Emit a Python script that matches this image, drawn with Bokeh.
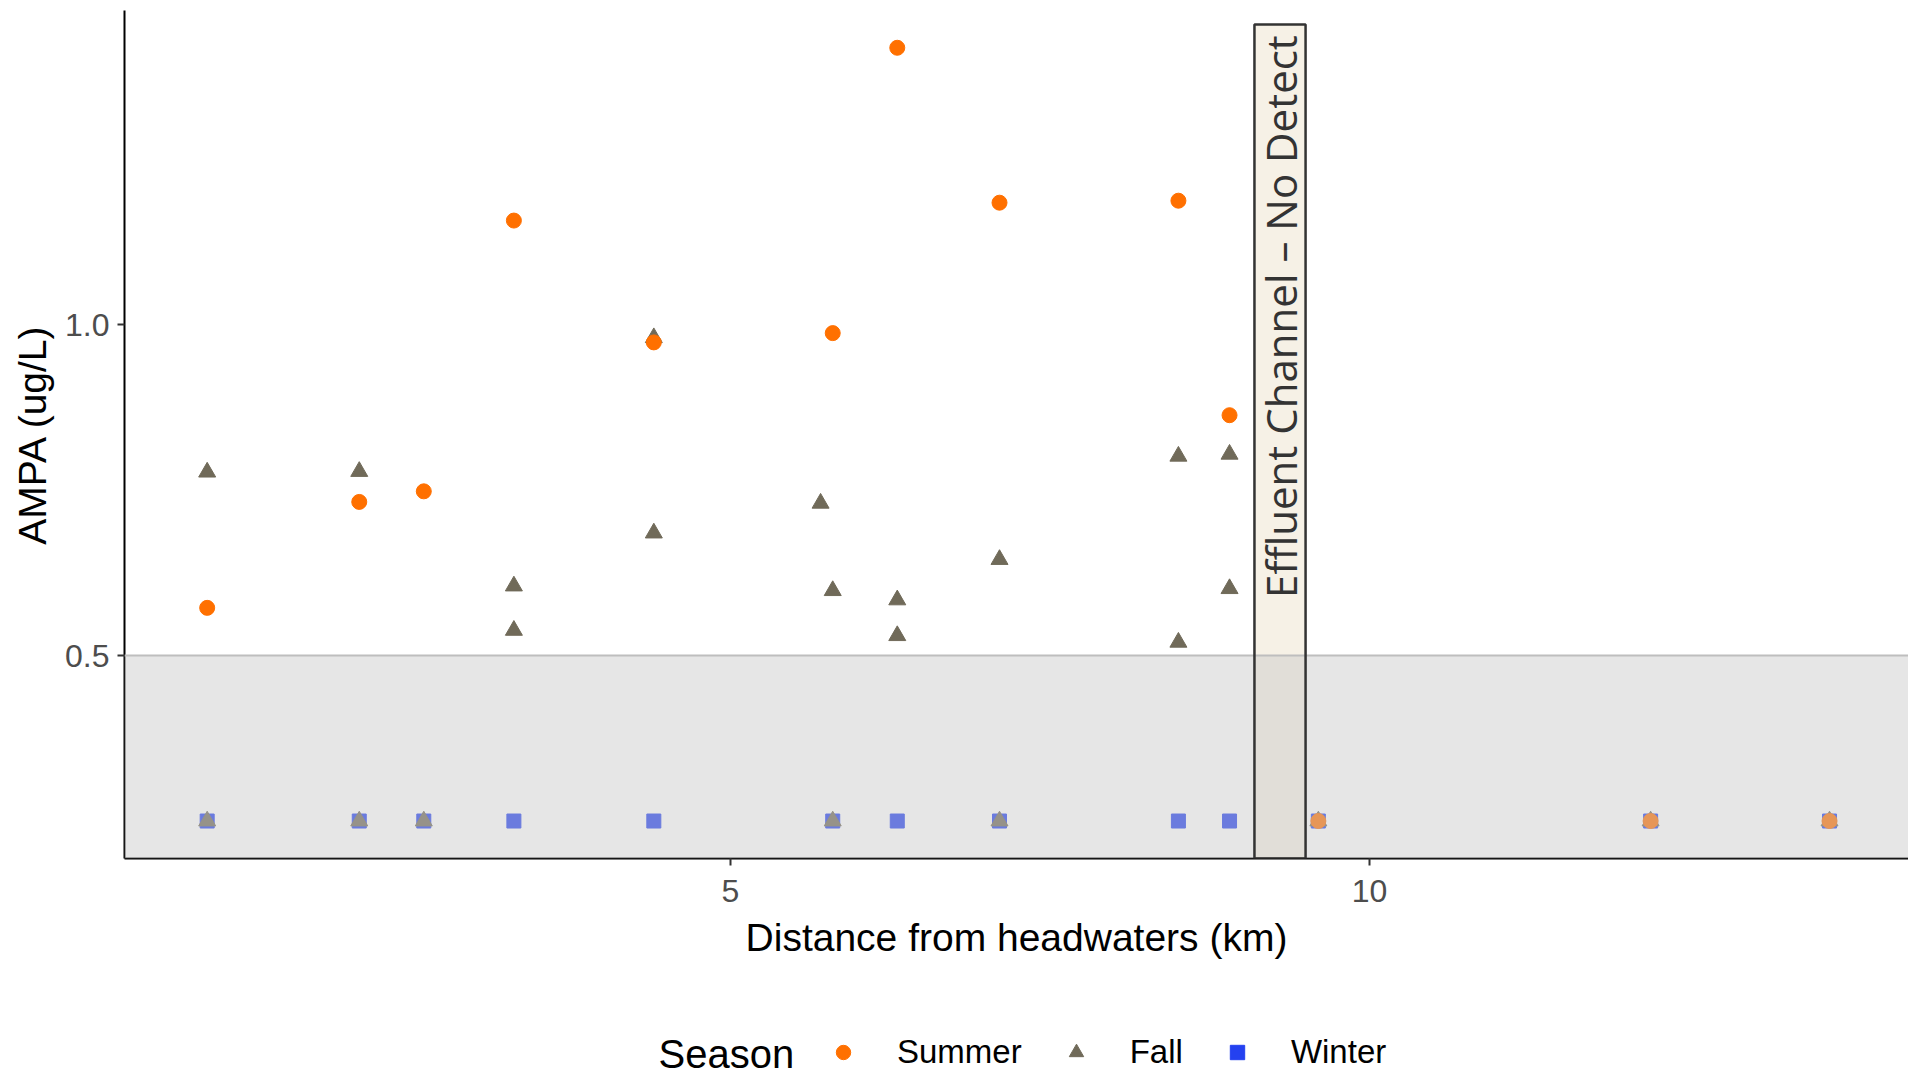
import math
from bokeh.plotting import figure
from bokeh.layouts import column
from bokeh.models import (Range1d, FixedTicker, Legend, LegendItem, BoxAnnotation,
                          Span, Label, PrintfTickFormatter)
from bokeh.embed import file_html
from bokeh.resources import INLINE

# ---- data (distance km, AMPA ug/L) ----
summer_km = [0.905, 2.095, 2.6, 3.305, 4.4, 5.8, 6.305, 7.105, 8.505, 8.905, 9.6, 12.2, 13.6]
summer_ampa = [0.572, 0.732, 0.748, 1.157, 0.973, 0.987, 1.418, 1.184, 1.187, 0.863, 0.25, 0.25, 0.25]

fall_km = [0.905, 0.905, 2.095, 2.095, 2.6, 3.305, 3.305, 4.4, 4.4, 5.705, 5.8, 5.8,
           6.305, 6.305, 7.105, 7.105, 8.505, 8.505, 8.905, 8.905, 9.6, 12.2, 13.6]
fall_ampa = [0.777, 0.25, 0.778, 0.25, 0.25, 0.605, 0.538, 0.685, 0.98, 0.730, 0.598, 0.25,
             0.584, 0.530, 0.645, 0.25, 0.801, 0.520, 0.804, 0.601, 0.25, 0.25, 0.25]

winter_km = [0.905, 2.095, 2.6, 3.305, 4.4, 5.8, 6.305, 7.105, 8.505, 8.905, 9.6, 12.2, 13.6]
winter_ampa = [0.25] * 13

legend_title = "Season"
seasons = ["Summer", "Fall", "Winter"]
detection_limit = 0.5
x_ticks = [5, 10]
y_ticks = [0.5, 1.0]
effluent_left, effluent_right, effluent_top = 9.1, 9.5, 1.453
effluent_text = "Effluent Channel \u2013 No Detect"

C_SUMMER = "#FF7000"
C_FALL = "#706A59"
C_WINTER = "#2441F0"
STY = {"Summer": dict(marker="circle", size=15, color=C_SUMMER),
       "Fall": dict(marker="triangle", size=17, color=C_FALL),
       "Winter": dict(marker="square", size=14, color=C_WINTER)}
DATA = {"Summer": (summer_km, summer_ampa),
        "Fall": (fall_km, fall_ampa),
        "Winter": (winter_km, winter_ampa)}

Y0, Y1 = 0.1934, 1.4743
p = figure(width=1908, height=1026, output_backend="svg", toolbar_location=None,
           x_range=Range1d(0.258, 14.218), y_range=Range1d(Y0, Y1),
           min_border_left=124, min_border_right=0, min_border_top=10, min_border_bottom=168)
p.outline_line_color = None
p.xgrid.visible = False
p.ygrid.visible = False
p.background_fill_color = "white"
p.border_fill_color = "white"

# points: winter under fall under summer
for s in ["Winter", "Fall", "Summer"]:
    p.scatter(*DATA[s], **STY[s])

# effluent channel box fill
p.quad(left=[effluent_left], right=[effluent_right], bottom=[Y0], top=[effluent_top],
       fill_color="#F6F1E6", line_color=None)

# non-detect shading
p.add_layout(BoxAnnotation(top=detection_limit, fill_color="#C6C6C6", fill_alpha=0.44,
                           line_color=None))
p.add_layout(Span(location=detection_limit, dimension="width", line_color="#BEBEBE",
                  line_width=2))
# effluent box outline
p.add_layout(BoxAnnotation(left=effluent_left, right=effluent_right, top=effluent_top,
                           fill_alpha=0, fill_color=None, line_color="#333333",
                           line_alpha=1.0, line_width=2.5))
p.add_layout(Label(x=(effluent_left + effluent_right) / 2, y=1.012, text=effluent_text,
                   angle=math.pi / 2, text_align="center", text_baseline="middle",
                   text_font="Open Sans", text_font_size="42px", text_color="#333333"))

# axes
for ax in (p.xaxis[0], p.yaxis[0]):
    ax.axis_line_color = "black"
    ax.axis_line_width = 2
    ax.major_tick_line_color = "#333333"
    ax.major_tick_line_width = 2
    ax.major_tick_out = 7
    ax.major_tick_in = 0
    ax.minor_tick_line_color = None
    ax.major_label_text_font = "Liberation Sans"
    ax.major_label_text_font_size = "32px"
    ax.major_label_text_color = "#4D4D4D"
    ax.axis_label_text_font = "Liberation Sans"
    ax.axis_label_text_font_size = "39px"
    ax.axis_label_text_font_style = "normal"
    ax.axis_label_text_color = "black"

p.xaxis.ticker = FixedTicker(ticks=x_ticks)
p.yaxis.ticker = FixedTicker(ticks=y_ticks)
p.yaxis.formatter = PrintfTickFormatter(format="%.1f")
p.xaxis.axis_label = "Distance from headwaters (km)"
p.yaxis.axis_label = "AMPA (ug/L)"
p.xaxis.major_label_standoff = 14
p.xaxis.axis_label_standoff = 11
p.yaxis.major_label_standoff = 8
p.yaxis.axis_label_standoff = 8
p.yaxis.major_label_orientation = "horizontal"

# ---- legend strip (separate figure below; its ranges exclude the data) ----
lg = figure(width=1908, height=48, output_backend="svg", toolbar_location=None,
            x_range=Range1d(-3, -2), y_range=Range1d(-3, -2), x_axis_type=None,
            y_axis_type=None, min_border=0, min_border_left=0, min_border_right=0,
            min_border_top=0, min_border_bottom=0)
lg.outline_line_color = None
lg.xgrid.visible = False
lg.ygrid.visible = False
items = []
for s in seasons:
    r = lg.scatter(*DATA[s], **STY[s])
    items.append(LegendItem(label=s, renderers=[r]))
legend = Legend(items=items, orientation="horizontal", location=(701, 3), padding=0,
                margin=0, spacing=36, glyph_width=36, glyph_height=36, label_standoff=36,
                border_line_color=None, background_fill_alpha=0,
                label_text_font="Liberation Sans", label_text_font_size="33px",
                label_text_color="black")
lg.add_layout(legend)
lg.add_layout(Label(x=534, y=21, x_units="screen", y_units="screen", text=legend_title,
                    text_baseline="middle", text_align="left", text_font="Liberation Sans",
                    text_font_size="40px", text_color="black"))

open("out.html", "w").write(file_html(column(p, lg, spacing=0), INLINE))
